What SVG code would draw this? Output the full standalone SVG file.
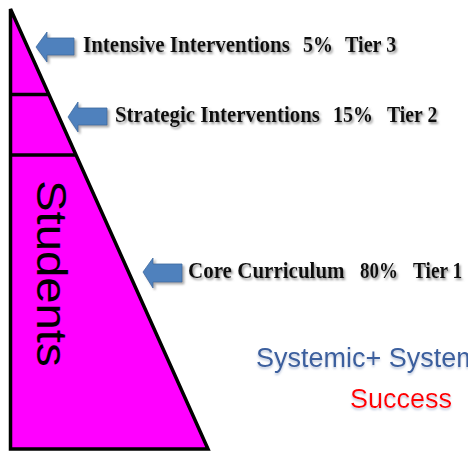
<svg xmlns="http://www.w3.org/2000/svg" width="468" height="452" viewBox="0 0 468 452">
  <defs>
    <filter id="textShadow" x="-5%" y="-30%" width="110%" height="170%">
      <feDropShadow dx="1.5" dy="2" stdDeviation="1" flood-color="#7a7a7a" flood-opacity="0.8"/>
    </filter>
    <filter id="arrowShadow" x="-20%" y="-20%" width="150%" height="160%">
      <feDropShadow dx="2" dy="2" stdDeviation="1.2" flood-color="#888" flood-opacity="0.7"/>
    </filter>
    <filter id="softShadow" x="-5%" y="-30%" width="110%" height="170%">
      <feDropShadow dx="0" dy="2" stdDeviation="1" flood-color="#b0bdd6" flood-opacity="0.8"/>
    </filter>
  </defs>
  <style>
    .tier { font-family: "Liberation Serif", "Times New Roman", serif; font-weight: bold; font-size: 24px; fill: #111; }
    .arrow { fill: #4F81BD; stroke: #3d6a9f; stroke-width: 0.8; }
    .sans { font-family: "Liberation Sans", Arial, sans-serif; font-size: 27px; }
  </style>

  <rect width="468" height="452" fill="#ffffff"/>

  <!-- student pyramid -->
  <g id="pyramid">
    <polygon points="10.5,9 10.5,449 208,449" fill="#ff00ff" stroke="#000" stroke-width="3.5" stroke-linejoin="miter"/>
    <line x1="10.5" y1="94.5" x2="48" y2="94.5" stroke="#000" stroke-width="3.5"/>
    <line x1="10.5" y1="155" x2="76" y2="155" stroke="#000" stroke-width="3.5"/>
    <text transform="translate(37,180) rotate(90) scale(1.1,1)" font-family="Liberation Sans, Arial, sans-serif" font-size="43" fill="#000">Students</text>
  </g>

  <!-- tier labels with pointers (condensed serif) -->
  <g id="tier3">
    <polygon class="arrow" filter="url(#arrowShadow)" points="36,47 47,32 47,38 74,38 74,55 47,55 47,62"/>
    <g class="tier" filter="url(#textShadow)">
      <text transform="translate(83,52) scale(0.875,1)">Intensive Interventions</text>
      <text transform="translate(303,52) scale(0.833,1)">5%</text>
      <text transform="translate(345,52) scale(0.839,1)">Tier 3</text>
    </g>
  </g>

  <g id="tier2">
    <polygon class="arrow" filter="url(#arrowShadow)" points="68,117 78,102 78,108 107,108 107,125 78,125 78,132"/>
    <g class="tier" filter="url(#textShadow)">
      <text transform="translate(115,122) scale(0.871,1)">Strategic Interventions</text>
      <text transform="translate(333,122) scale(0.833,1)">15%</text>
      <text transform="translate(387,122) scale(0.823,1)">Tier 2</text>
    </g>
  </g>

  <g id="tier1">
    <polygon class="arrow" filter="url(#arrowShadow)" points="143,272 153,258 153,264 182,264 182,282 153,282 153,288"/>
    <g class="tier" filter="url(#textShadow)">
      <text transform="translate(188,278) scale(0.876,1)">Core Curriculum</text>
      <text transform="translate(360,278) scale(0.79,1)">80%</text>
      <text transform="translate(413,278) scale(0.806,1)">Tier 1</text>
    </g>
  </g>

  <!-- closing statement, running past the right edge -->
  <g id="caption">
    <text class="sans" x="256" y="367" fill="#3a5f9e" filter="url(#softShadow)">Systemic+ Systemic</text>
    <text class="sans" x="350" y="408" fill="#ff0000" filter="url(#softShadow)">Success</text>
  </g>
</svg>
